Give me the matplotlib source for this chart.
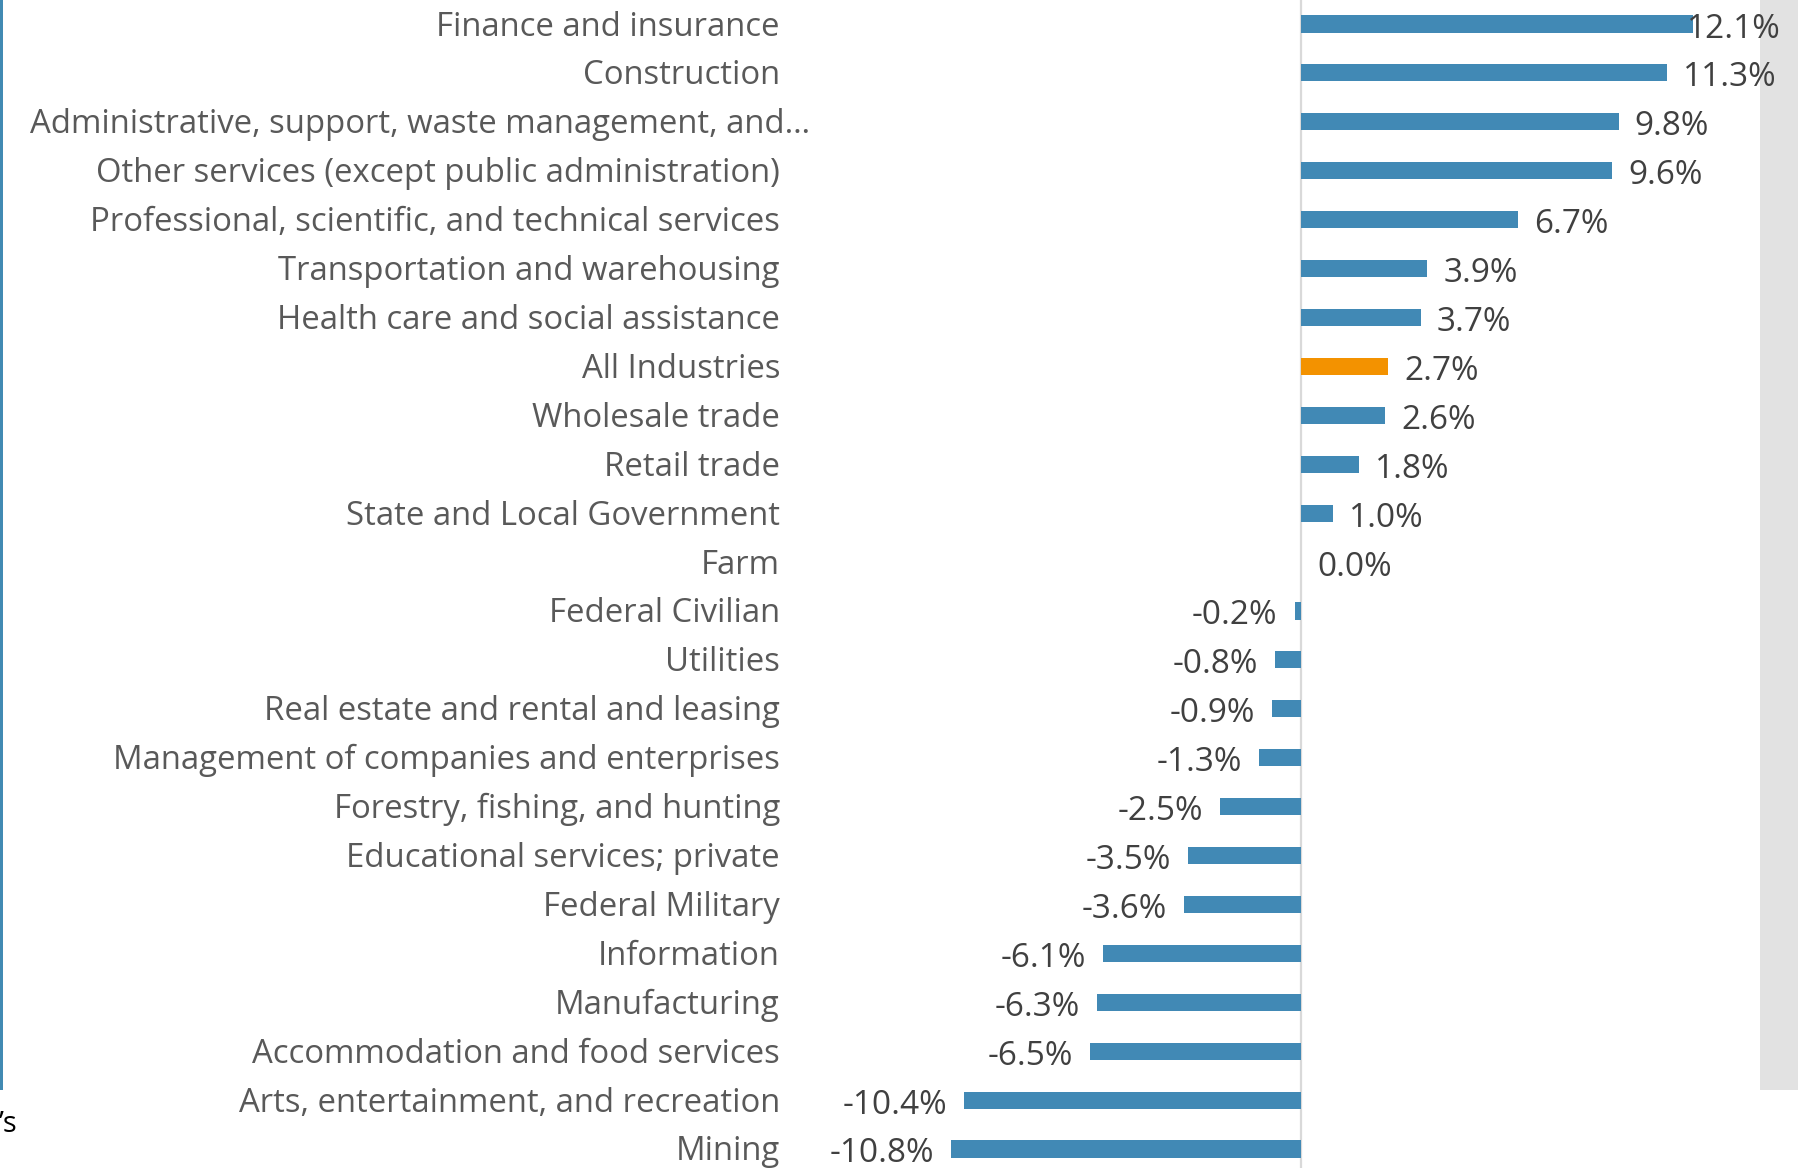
import matplotlib
matplotlib.use("Agg")
import matplotlib.pyplot as plt
from matplotlib import transforms
from matplotlib.patches import Rectangle

categories = [
    "Finance and insurance",
    "Construction",
    "Administrative, support, waste management, and\u2026",
    "Other services (except public administration)",
    "Professional, scientific, and technical services",
    "Transportation and warehousing",
    "Health care and social assistance",
    "All Industries",
    "Wholesale trade",
    "Retail trade",
    "State and Local Government",
    "Farm",
    "Federal Civilian",
    "Utilities",
    "Real estate and rental and leasing",
    "Management of companies and enterprises",
    "Forestry, fishing, and hunting",
    "Educational services; private",
    "Federal Military",
    "Information",
    "Manufacturing",
    "Accommodation and food services",
    "Arts, entertainment, and recreation",
    "Mining",
]
values = [12.1, 11.3, 9.8, 9.6, 6.7, 3.9, 3.7, 2.7, 2.6, 1.8, 1.0, 0.0,
          -0.2, -0.8, -0.9, -1.3, -2.5, -3.5, -3.6, -6.1, -6.3, -6.5, -10.4, -10.8]
highlight = "All Industries"

FONT = "Open Sans"
W, H = 1798, 1168
fig = plt.figure(figsize=(W / 100, H / 100), dpi=100)
fig.patch.set_facecolor("white")

# decorative cropped elements
fig.patches.append(Rectangle((0, 78 / H), 3 / W, 1 - 78 / H, transform=fig.transFigure,
                             facecolor="#418AB3", edgecolor="none", zorder=-5))
fig.patches.append(Rectangle((1760 / W, 78 / H), 38 / W, 1 - 78 / H, transform=fig.transFigure,
                             facecolor="#E2E2E2", edgecolor="none", zorder=-5))
fig.text(-1 / W, 1 - 1124 / H, "\u2019s", fontsize=21, family=FONT, color="black",
         ha="left", va="center")

ax_left, ax_right = 830, 1760
ax = fig.add_axes([ax_left / W, 0, (ax_right - ax_left) / W, 1])
ax.patch.set_alpha(0)
zero_px, px_per_unit = 1301, 32.4
ax.set_xlim((ax_left - zero_px) / px_per_unit, (ax_right - zero_px) / px_per_unit)
row = 48.9
top_y = 24
ax.set_ylim(23 + (H - 1149) / row, -top_y / row)

ypos = list(range(len(categories)))
colors = ["#F39200" if c == highlight else "#4189B5" for c in categories]
ax.barh(ypos, values, height=0.35, color=colors, zorder=3)
ax.axvline(0, color="#D9D9D9", lw=1.6, zorder=2)

for s in ax.spines.values():
    s.set_visible(False)
ax.set_xticks([])
ax.set_yticks([])

trans = transforms.blended_transform_factory(fig.transFigure, ax.transData)
trans = trans + transforms.ScaledTranslation(0, -3 / 100, fig.dpi_scale_trans)
for y, c in zip(ypos, categories):
    xr = 810 if c.endswith("\u2026") else 780
    ax.text(xr / W, y, c, transform=trans, ha="right", va="center",
            fontsize=23.7, family=FONT, color="#595959")

vmax = max(values)
for y, v in zip(ypos, values):
    txt = f"{v:.1f}%"
    if v >= 0:
        off = -6 if v == vmax else 16
        ax.annotate(txt, (v, y), xytext=(off, -5), textcoords="offset pixels",
                    ha="left", va="center", fontsize=24, family=FONT,
                    color="#404040", zorder=5, annotation_clip=False)
    else:
        ax.annotate(txt, (v, y), xytext=(-17, -5), textcoords="offset pixels",
                    ha="right", va="center", fontsize=24, family=FONT,
                    color="#404040", zorder=5, annotation_clip=False)

fig.savefig("out.png", dpi=100)
